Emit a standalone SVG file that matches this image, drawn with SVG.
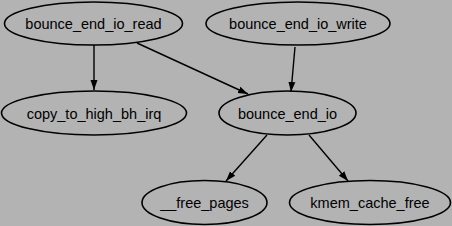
<svg xmlns="http://www.w3.org/2000/svg" width="452" height="226" viewBox="0 0 452 226">
<style>
.n ellipse{fill:none;stroke:#000;stroke-width:1.6}
.n text{font-family:"Liberation Sans",Arial,sans-serif;font-size:14.5px;text-anchor:middle;fill:#000}
.e line{stroke:#000;stroke-width:1.4}
</style>
<defs>
<marker id="a" viewBox="0 0 10 10" refX="10" refY="5" markerWidth="10" markerHeight="10" markerUnits="userSpaceOnUse" orient="auto">
<path d="M0,1.5L10,5L0,8.5z" fill="#000"/>
</marker>
</defs>
<rect width="452" height="226" fill="#b3b3b3"/>
<g class="e">
<line x1="94" y1="45" x2="94" y2="90" marker-end="url(#a)"/>
<line x1="137" y1="43" x2="248" y2="94" marker-end="url(#a)"/>
<line x1="295" y1="47" x2="291" y2="92" marker-end="url(#a)"/>
<line x1="267" y1="135" x2="226" y2="181" marker-end="url(#a)"/>
<line x1="309" y1="135" x2="348" y2="181" marker-end="url(#a)"/>
</g>
<g id="bounce_end_io_read" class="n"><ellipse cx="93.5" cy="23.5" rx="89" ry="21.5"/><text x="93.5" y="29">bounce_end_io_read</text></g>
<g id="bounce_end_io_write" class="n"><ellipse cx="298" cy="23.5" rx="92" ry="21.5"/><text x="298" y="29">bounce_end_io_write</text></g>
<g id="copy_to_high_bh_irq" class="n"><ellipse cx="94" cy="113" rx="92.5" ry="22"/><text x="94" y="118.5">copy_to_high_bh_irq</text></g>
<g id="bounce_end_io" class="n"><ellipse cx="287.5" cy="113" rx="68.5" ry="22"/><text x="287.5" y="118.5">bounce_end_io</text></g>
<g id="__free_pages" class="n"><ellipse cx="204.5" cy="202.5" rx="62.5" ry="22"/><text x="204.5" y="208">__free_pages</text></g>
<g id="kmem_cache_free" class="n"><ellipse cx="370" cy="202.5" rx="80.5" ry="22"/><text x="370" y="208">kmem_cache_free</text></g>
</svg>
